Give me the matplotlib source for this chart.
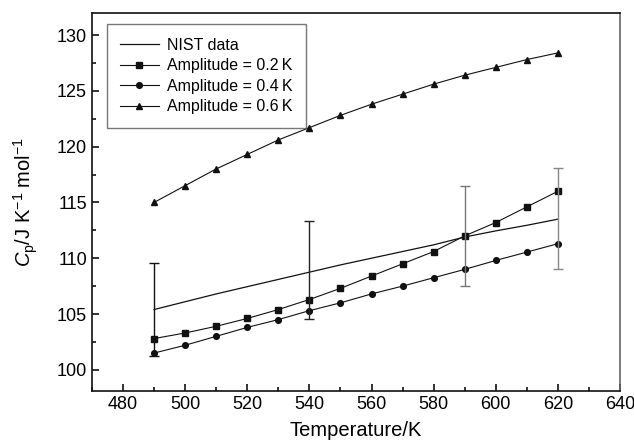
import matplotlib
matplotlib.use("Agg")
import matplotlib.pyplot as plt
from matplotlib.ticker import MultipleLocator

plt.rcParams['font.family'] = ['Liberation Sans', 'DejaVu Sans']
plt.rcParams['mathtext.fontset'] = 'custom'
plt.rcParams['mathtext.rm'] = 'Liberation Sans'
plt.rcParams['mathtext.it'] = 'Liberation Sans:italic'

temperature = [490, 500, 510, 520, 530, 540, 550, 560, 570, 580, 590, 600, 610, 620]
nist = [105.4, 106.1, 106.8, 107.45, 108.1, 108.75, 109.4, 110.0, 110.6, 111.2, 111.9, 112.45, 112.95, 113.5]
amp_02 = [102.8, 103.3, 103.9, 104.6, 105.4, 106.3, 107.3, 108.4, 109.5, 110.6, 112.0, 113.2, 114.6, 116.0]
amp_04 = [101.5, 102.2, 103.0, 103.8, 104.5, 105.3, 106.0, 106.8, 107.5, 108.25, 109.0, 109.8, 110.55, 111.3]
amp_06 = [115.0, 116.5, 118.0, 119.3, 120.6, 121.7, 122.8, 123.8, 124.7, 125.6, 126.4, 127.1, 127.8, 128.4]

err_T = [490, 540, 590, 620]
err_center = [105.4, 108.95, 112.0, 113.55]
err_size = [4.2, 4.4, 4.5, 4.55]
err_colors = ['#111111', '#222222', '#777777', '#888888']

fig = plt.figure(figsize=(6.34, 4.46), dpi=100)
ax = fig.add_axes([0.145, 0.1233, 0.833, 0.8482])

ax.plot(temperature, nist, color='#111111', lw=0.9, label='NIST data')
ax.plot(temperature, amp_02, color='#111111', lw=0.8, marker='s', ms=4.5, label='Amplitude = 0.2\u2009K')
ax.plot(temperature, amp_04, color='#111111', lw=0.8, marker='o', ms=4.1, label='Amplitude = 0.4\u2009K')
ax.plot(temperature, amp_06, color='#111111', lw=0.8, marker='^', ms=5.0, label='Amplitude = 0.6\u2009K')

for t, c, e, col in zip(err_T, err_center, err_size, err_colors):
    ax.errorbar([t], [c], yerr=[e], fmt='none', ecolor=col, elinewidth=1.0, capsize=3.5, capthick=1.0)

ax.set_xlim(470, 640)
ax.set_ylim(98.1, 132.0)
ax.xaxis.set_major_locator(MultipleLocator(20))
ax.xaxis.set_minor_locator(MultipleLocator(10))
ax.yaxis.set_major_locator(MultipleLocator(5))
ax.yaxis.set_minor_locator(MultipleLocator(2.5))
ax.tick_params(which='both', direction='in', top=False, right=False, labelsize=13, width=1.2, color='#111111')
ax.tick_params(which='major', length=5)
ax.tick_params(which='minor', length=3)

for side in ['left', 'bottom', 'top']:
    ax.spines[side].set_linewidth(1.2)
    ax.spines[side].set_color('#111111')
ax.spines['right'].set_linewidth(1.2)
ax.spines['right'].set_color('#666666')

ax.set_xlabel('Temperature/K', fontsize=14.5, labelpad=6)
ax.set_ylabel(r'$\mathit{C}_\mathrm{p}\mathrm{/J\ K^{-1}\ mol^{-1}}$', fontsize=14.5, labelpad=12)

leg = ax.legend(loc='upper left', bbox_to_anchor=(0.028, 0.970), borderaxespad=0,
                fontsize=11.5, frameon=True, fancybox=False, handlelength=2.4,
                handletextpad=0.5, labelspacing=0.35, borderpad=0.85)
leg.get_frame().set_edgecolor('#555555')
leg.get_frame().set_linewidth(1.0)

fig.savefig('out.png', dpi=100)
